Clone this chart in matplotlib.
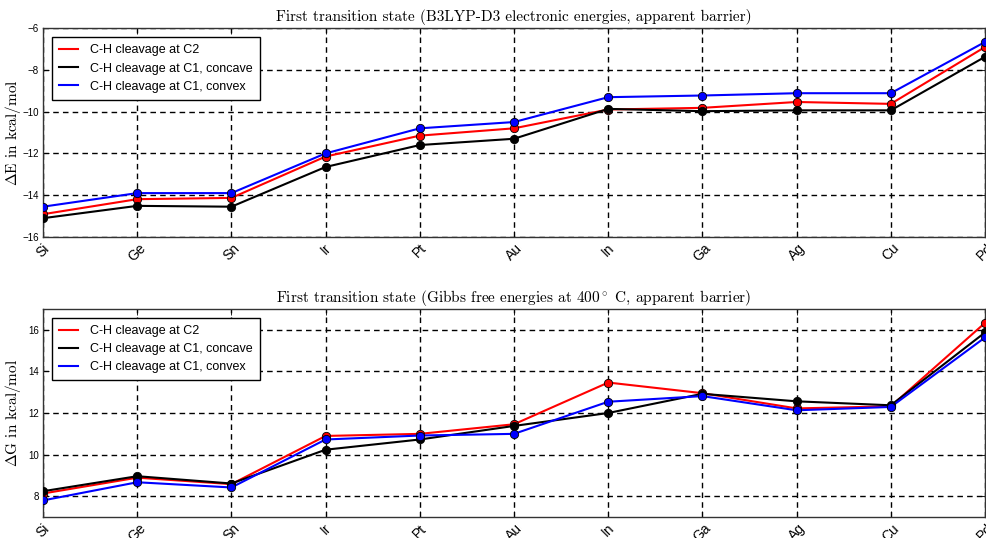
import matplotlib
matplotlib.use("Agg")
import matplotlib.pyplot as plt

metals = ["Si", "Ge", "Sn", "Ir", "Pt", "Au", "In", "Ga", "Ag", "Cu", "Pd"]
labels = ["C-H cleavage at C2", "C-H cleavage at C1, concave", "C-H cleavage at C1, convex"]
colors = ["red", "black", "blue"]

dE_c2 = [-14.91, -14.19, -14.13, -12.15, -11.15, -10.80, -9.90, -9.82, -9.54, -9.63, -6.91]
dE_c1_concave = [-15.10, -14.51, -14.55, -12.65, -11.60, -11.30, -9.87, -9.98, -9.94, -9.94, -7.38]
dE_c1_convex = [-14.55, -13.90, -13.90, -12.00, -10.80, -10.50, -9.31, -9.23, -9.12, -9.12, -6.67]

dG_c2 = [8.14, 8.90, 8.59, 10.90, 11.00, 11.46, 13.46, 12.95, 12.22, 12.32, 16.32]
dG_c1_concave = [8.25, 8.97, 8.62, 10.24, 10.73, 11.38, 12.00, 12.92, 12.56, 12.37, 15.86]
dG_c1_convex = [7.81, 8.68, 8.43, 10.73, 10.92, 11.00, 12.54, 12.81, 12.13, 12.29, 15.62]

plt.rcParams['mathtext.fontset'] = 'cm'

fig = plt.figure(figsize=(9.87, 5.38), dpi=100)
W, H = 987.0, 538.0
left, right = 43, 985
ax1 = fig.add_axes([left / W, 1 - 237 / H, (right - left) / W, 209 / H])
ax2 = fig.add_axes([left / W, 1 - 517.3 / H, (right - left) / W, 208.6 / H])

serif = ['cmr10', 'DejaVu Serif']

def draw(ax, series, ylim, yticks, title, ylabel):
    x = list(range(len(metals)))
    for vals, lab, col in zip(series, labels, colors):
        ax.plot(x, vals, color=col, lw=1.5, label=lab, zorder=3)
        ax.plot(x, vals, color=col, lw=0, marker='o', markersize=6,
                markeredgecolor='black', markeredgewidth=0.6, zorder=4)
    ax.set_xlim(0, len(metals) - 1)
    ax.set_ylim(*ylim)
    ax.set_yticks(yticks)
    ax.set_yticklabels([f"{t:d}".replace('-', '\u2212') for t in yticks], fontsize=7,
                       family='Liberation Sans')
    ax.set_xticks(x)
    ax.set_xticklabels(metals, rotation=45, fontsize=10, family='Liberation Sans',
                       ha='center', va='top')
    ax.tick_params(axis='both', direction='in', length=4, width=0.6, pad=3,
                   top=True, right=True)
    ax.grid(True, color='black', linestyle=(0, (4, 3)), linewidth=1.0)
    for s in ax.spines.values():
        s.set_color('#333333')
        s.set_linewidth(1.0)
    ax.set_title(title, fontsize=11, family=serif, pad=5)
    ax.set_ylabel(ylabel, fontsize=11, family=serif)
    ax.yaxis.set_label_coords(-0.021, 0.5)
    leg = ax.legend(loc='upper left', prop={'family': 'Liberation Sans', 'size': 9},
                    frameon=True, fancybox=False, framealpha=1, edgecolor='black',
                    handlelength=1.5, handletextpad=1.0, borderpad=0.55,
                    labelspacing=0.5, borderaxespad=0.75)
    leg.get_frame().set_linewidth(1.0)

draw(ax1, [dE_c2, dE_c1_concave, dE_c1_convex], (-16, -6), [-16, -14, -12, -10, -8, -6],
     "First transition state (B3LYP-D3 electronic energies, apparent barrier)",
     r"$\Delta$E in kcal/mol")
draw(ax2, [dG_c2, dG_c1_concave, dG_c1_convex], (7, 17), [8, 10, 12, 14, 16],
     r"First transition state (Gibbs free energies at 400$^\circ$ C, apparent barrier)",
     r"$\Delta$G in kcal/mol")

fig.savefig("out.png", dpi=100)
